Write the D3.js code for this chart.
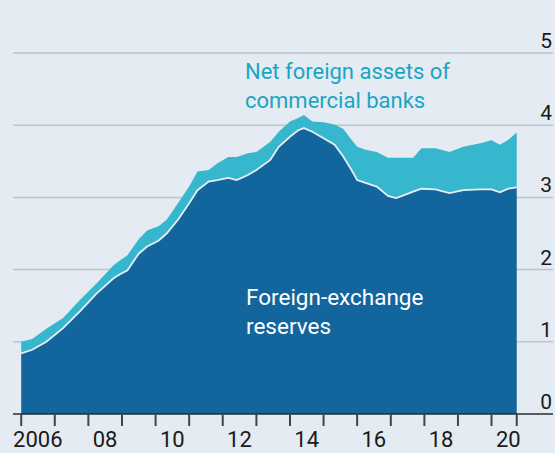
<!DOCTYPE html>
<html>
<head>
<meta charset="utf-8">
<script src="https://cdn.jsdelivr.net/npm/d3@7.9.0/dist/d3.min.js"></script>
<style>
  body { margin: 0; background: #e4ebf2; }
  svg { display: block; font-family: Roboto, "Liberation Sans", sans-serif; }
</style>
</head>
<body>
<svg id="chart" width="555" height="453"></svg>
<script>
// Month of each reading
const dates = ["2006-01", "2006-05", "2006-10", "2007-04", "2007-10", "2008-04", "2008-10", "2008-12",
  "2009-03", "2009-07", "2009-10", "2010-02", "2010-05", "2010-09", "2011-01", "2011-04",
  "2011-08", "2011-11", "2012-03", "2012-06", "2012-10", "2013-01", "2013-06", "2013-09",
  "2014-01", "2014-04", "2014-06", "2014-09", "2015-01", "2015-05", "2015-08", "2015-11",
  "2016-01", "2016-04", "2016-08", "2016-12", "2017-03", "2017-07", "2017-09", "2017-12",
  "2018-05", "2018-10", "2019-03", "2019-09", "2020-01", "2020-04", "2020-07", "2020-10"];

// Foreign-exchange reserves, $trn
const reserves = [0.84, 0.89, 1.00, 1.19, 1.42, 1.67, 1.88, 1.93,
  1.99, 2.22, 2.32, 2.40, 2.50, 2.69, 2.92, 3.10,
  3.22, 3.24, 3.27, 3.24, 3.31, 3.38, 3.52, 3.70,
  3.84, 3.93, 3.96, 3.91, 3.82, 3.73, 3.57, 3.38,
  3.24, 3.20, 3.15, 3.02, 2.99, 3.05, 3.08, 3.12,
  3.11, 3.06, 3.10, 3.11, 3.11, 3.07, 3.12, 3.14];

// Net foreign assets of commercial banks, $trn
const netForeign = [0.16, 0.15, 0.18, 0.14, 0.16, 0.14, 0.18, 0.19,
  0.21, 0.20, 0.22, 0.20, 0.19, 0.23, 0.23, 0.26,
  0.16, 0.23, 0.29, 0.32, 0.30, 0.25, 0.25, 0.21,
  0.21, 0.17, 0.18, 0.14, 0.22, 0.28, 0.38, 0.42,
  0.46, 0.46, 0.48, 0.53, 0.56, 0.50, 0.47, 0.56,
  0.57, 0.57, 0.60, 0.64, 0.68, 0.66, 0.68, 0.76];

const yTicks = [0, 1, 2, 3, 4, 5];
const tickYears = d3.range(2006, 2021);
const yearLabels = ["2006", "08", "10", "12", "14", "16", "18", "20"];

const parse = d3.timeParse("%Y-%m");
const rows = dates.map((d, i) => ({ date: parse(d), reserves: reserves[i], netForeign: netForeign[i] }));

const svg = d3.select("#chart");

const x = d3.scaleTime()
  .domain([new Date(2006, 0, 1), new Date(2021, 0, 1)])
  .range([21.2, 525.2]);
const y = d3.scaleLinear().domain([0, 5]).range([414, 53]);

// gridlines
svg.append("g")
  .selectAll("line")
  .data(yTicks.filter(d => d > 0))
  .join("line")
  .attr("x1", 13).attr("x2", 553)
  .attr("y1", d => y(d)).attr("y2", d => y(d))
  .attr("stroke", "#bcc5ce")
  .attr("stroke-width", 1.5);

// stacked areas
const stack = d3.stack().keys(["reserves", "netForeign"]);
const layers = stack(rows);
const colors = { reserves: "#13659d", netForeign: "#37b7cd" };

const area = d3.area()
  .x(d => x(d.data.date))
  .y0(d => y(d[0]))
  .y1(d => y(d[1]));

svg.append("g")
  .selectAll("path")
  .data(layers)
  .join("path")
  .attr("d", area)
  .attr("fill", d => colors[d.key]);

// light edge on top of reserves
svg.append("path")
  .attr("d", d3.line().x(d => x(d.data.date)).y(d => y(d[1]))(layers[0]))
  .attr("fill", "none")
  .attr("stroke", "#e6eef3")
  .attr("stroke-width", 1.8);

// baseline
svg.append("line")
  .attr("x1", 13).attr("x2", 553)
  .attr("y1", y(0)).attr("y2", y(0))
  .attr("stroke", "#2b2b2b")
  .attr("stroke-width", 1.5);

// x ticks at year starts plus end of data
const tickDates = tickYears.map(yr => new Date(yr, 0, 1)).concat([rows[rows.length - 1].date]);
svg.append("g")
  .selectAll("line")
  .data(tickDates)
  .join("line")
  .attr("x1", d => x(d)).attr("x2", d => x(d))
  .attr("y1", y(0)).attr("y2", y(0) + 12)
  .attr("stroke", "#444")
  .attr("stroke-width", 2);

// x labels centred in the year
svg.append("g")
  .selectAll("text")
  .data(yearLabels)
  .join("text")
  .attr("x", (d, i) => x(new Date(2006 + i * 2, 6, 1)))
  .attr("y", 447)
  .attr("text-anchor", "middle")
  .attr("font-size", 22)
  .attr("fill", "#1a1a1a")
  .text(d => d);

// y labels on the right
svg.append("g")
  .selectAll("text")
  .data(yTicks)
  .join("text")
  .attr("x", 552)
  .attr("y", d => y(d) - 5)
  .attr("text-anchor", "end")
  .attr("font-size", 21)
  .attr("fill", "#1a1a1a")
  .text(d => d);

// annotations
const teal = svg.append("text")
  .attr("font-size", 22)
  .attr("fill", "#19a6c3");
teal.append("tspan").attr("x", 245).attr("y", 79).text("Net foreign assets of");
teal.append("tspan").attr("x", 245).attr("y", 108).text("commercial banks");

const white = svg.append("text")
  .attr("font-size", 22.5)
  .attr("fill", "#ffffff");
white.append("tspan").attr("x", 246).attr("y", 305).text("Foreign-exchange");
white.append("tspan").attr("x", 246).attr("y", 334).text("reserves");
</script>
</body>
</html>
